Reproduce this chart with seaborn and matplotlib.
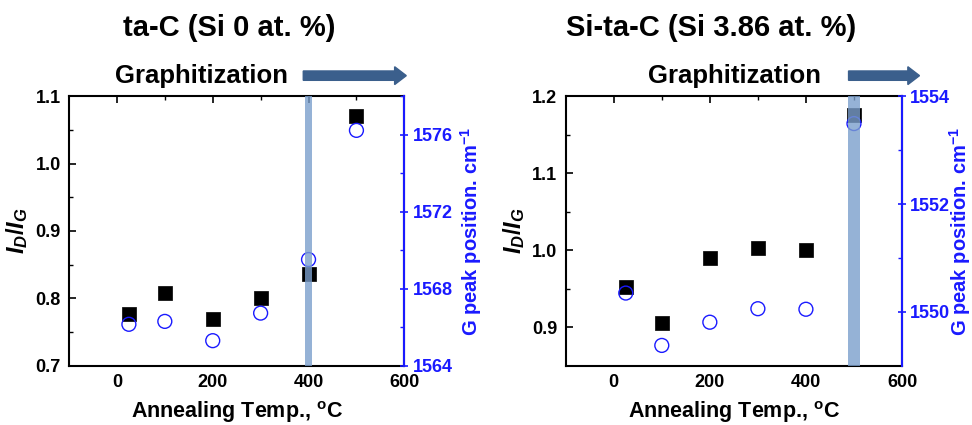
import matplotlib
matplotlib.use("Agg")
import matplotlib.pyplot as plt
import seaborn as sns
import pandas as pd
import numpy as np

# ---- data ----
temps = [25, 100, 200, 300, 400, 500]
ta_c_idig = [0.777, 0.808, 0.770, 0.800, 0.836, 1.070]
ta_c_gpeak = [1566.16, 1566.31, 1565.31, 1566.74, 1569.52, 1576.22]
sitac_idig = [0.952, 0.906, 0.990, 1.003, 1.000, 1.175]
sitac_gpeak = [1550.35, 1549.38, 1549.81, 1550.06, 1550.05, 1553.49]
titles = ["ta-C (Si 0 at. %)", "Si-ta-C (Si 3.86 at. %)"]

sns.set_style("white")
plt.rcParams['font.family'] = ['Liberation Sans', 'DejaVu Sans']
plt.rcParams['text.color'] = 'black'
plt.rcParams['axes.labelcolor'] = 'black'
plt.rcParams['xtick.color'] = 'black'
plt.rcParams['ytick.color'] = 'black'
plt.rcParams['mathtext.fontset'] = 'custom'
plt.rcParams['mathtext.rm'] = 'Liberation Sans:bold'
plt.rcParams['mathtext.it'] = 'Liberation Sans:bold:italic'
plt.rcParams['mathtext.bf'] = 'Liberation Sans:bold'

fig = plt.figure(figsize=(9.72, 4.25), dpi=100)
axes = [fig.add_axes([0.071, 0.139, 0.345, 0.635]),
        fig.add_axes([0.582, 0.139, 0.346, 0.635])]

configs = [
    dict(idig=ta_c_idig, gpk=ta_c_gpeak, ylim=(0.7, 1.1), yt=[0.7, 0.8, 0.9, 1.0, 1.1],
         yminor=[0.75, 0.85, 0.95, 1.05], y2lim=(1564, 1578), y2t=[1564, 1568, 1572, 1576],
         y2minor=[1566, 1570, 1574, 1578], band=(392, 408), lblx=1.16,
         ttl_x=0.236, graph_x=0.207, arr=(0.312, 0.418)),
    dict(idig=sitac_idig, gpk=sitac_gpeak, ylim=(0.85, 1.2), yt=[0.9, 1.0, 1.1, 1.2],
         yminor=[0.95, 1.05, 1.15], y2lim=(1549, 1554), y2t=[1550, 1552, 1554],
         y2minor=[1551, 1553], band=(488, 512), lblx=1.135,
         ttl_x=0.732, graph_x=0.756, arr=(0.873, 0.946)),
]

blue = "#1a1aff"
for ax, cfg, title in zip(axes, configs, titles):
    df = pd.DataFrame({"T": temps, "IDIG": cfg["idig"], "G": cfg["gpk"]})
    sns.scatterplot(data=df, x="T", y="IDIG", ax=ax, marker="s", s=90,
                    color="black", edgecolor="black", linewidth=0.5, zorder=3)
    ax.set_xlim(-100, 600)
    ax.set_ylim(*cfg["ylim"])
    ax.set_xticks([0, 200, 400, 600])
    ax.set_xticks([100, 300, 500], minor=True)
    ax.set_yticks(cfg["yt"])
    ax.set_yticklabels(["{:.1f}".format(v) for v in cfg["yt"]])
    ax.set_yticks(cfg["yminor"], minor=True)
    ax.tick_params(axis="both", which="major", direction="in", length=5, width=1.2,
                   labelsize=13, top=True, right=False, pad=6)
    ax.tick_params(axis="both", which="minor", direction="in", length=3, width=1.0,
                   top=True, right=False)
    for lbl in ax.get_xticklabels() + ax.get_yticklabels():
        lbl.set_fontweight("bold")
    for s in ax.spines.values():
        s.set_linewidth(1.5)
        s.set_color("black")
    ax.set_xlabel("Annealing Temp., $^{\\mathrm{o}}$C", fontsize=15.5, fontweight="bold",
                  labelpad=6)
    ax.set_ylabel("$\\mathit{I_D/I_G}$", fontsize=17, labelpad=4)

    ax2 = ax.twinx()
    sns.scatterplot(data=df, x="T", y="G", ax=ax2, marker="o", s=100,
                    facecolor="none", edgecolor=blue, linewidth=1.0, zorder=3)
    ax2.set_ylim(*cfg["y2lim"])
    ax2.set_yticks(cfg["y2t"])
    ax2.set_yticks(cfg["y2minor"], minor=True)
    ax2.tick_params(axis="y", which="major", direction="inout", length=6, width=1.2,
                    colors=blue, labelsize=13, pad=3)
    ax2.tick_params(axis="y", which="minor", direction="in", length=3, width=1.0, colors=blue)
    for lbl in ax2.get_yticklabels():
        lbl.set_fontweight("bold")
    ax2.spines["right"].set_color(blue)
    ax2.spines["right"].set_linewidth(1.5)
    for k in ["left", "top", "bottom"]:
        ax2.spines[k].set_visible(False)
    ax2.set_ylabel("G peak position. cm$^{-1}$", fontsize=14.5, fontweight="bold",
                   color=blue)
    ax2.yaxis.set_label_coords(cfg["lblx"], 0.5)
    ax2.axvspan(*cfg["band"], color="#7b9fcc", alpha=0.8, lw=0, zorder=5)

    fig.text(cfg["ttl_x"], 0.933, title, ha="center", va="center",
             fontsize=21, fontweight="bold")
    fig.text(cfg["graph_x"], 0.822, "Graphitization", ha="center", va="center",
             fontsize=18.5, fontweight="bold")
    fig.patches.append(matplotlib.patches.FancyArrow(
        cfg["arr"][0], 0.822, cfg["arr"][1] - cfg["arr"][0], 0, width=0.022,
        head_width=0.042, head_length=0.012, length_includes_head=True,
        color="#3b5f8c", transform=fig.transFigure, figure=fig))

fig.savefig("out.png", dpi=100)
